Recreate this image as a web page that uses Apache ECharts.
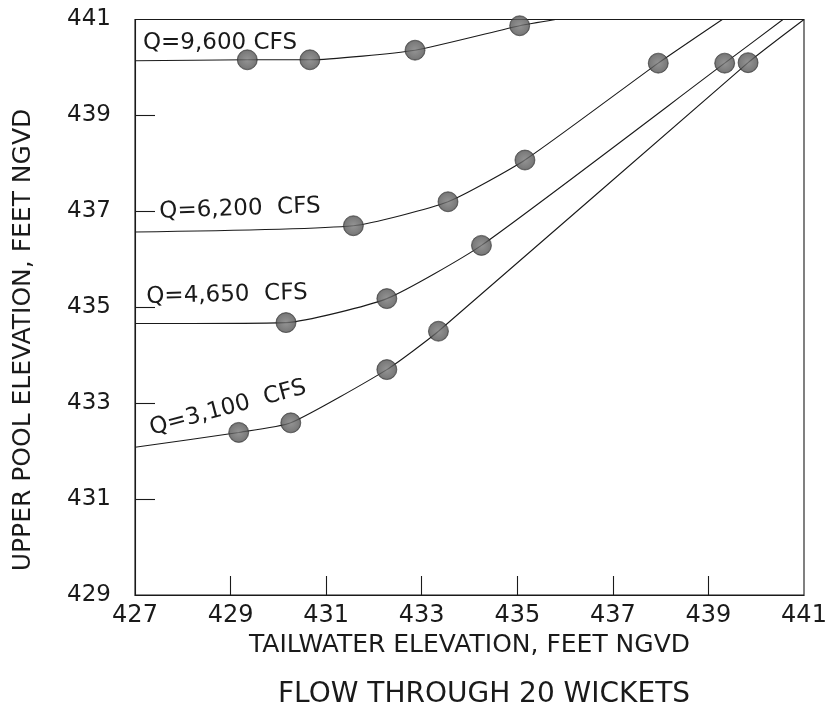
<!DOCTYPE html>
<html>
<head>
<meta charset="utf-8">
<script src="https://cdn.jsdelivr.net/npm/echarts@6/dist/echarts.min.js"></script>
<style>
html,body{margin:0;padding:0;background:#fff;}
#chart{width:830px;height:708px;}
</style>
</head>
<body>
<div id="chart"></div>
<script>
// ---- data ----
const xTickValues = [427, 429, 431, 433, 435, 437, 439, 441];
const yTickValues = [429, 431, 433, 435, 437, 439, 441];

const seriesNames = ['Q=9,600 CFS', 'Q=6,200 CFS', 'Q=4,650 CFS', 'Q=3,100 CFS'];

// measured points (tailwater x, upper pool y)
const q9600X = [429.35, 430.66, 432.86, 435.05];
const q9600Y = [440.16, 440.16, 440.36, 440.87];
const q6200X = [431.57, 433.55, 435.16, 437.95];
const q6200Y = [436.70, 437.20, 438.07, 440.09];
const q4650X = [430.16, 432.27, 434.25, 439.34];
const q4650Y = [434.68, 435.18, 436.29, 440.09];
const q3100X = [429.17, 430.26, 432.27, 433.35, 439.83];
const q3100Y = [432.39, 432.59, 433.70, 434.50, 440.10];

// fitted curve ends as drawn (start at left axis, end where curve meets the frame)
const curveStartX = [427, 427, 427, 427];
const curveStartY = [440.14, 436.57, 434.66, 432.08];
const curveEndX = [435.80, 439.29, 440.56, 441.00];
const curveEndY = [441.00, 441.00, 441.00, 441.00];

// ---- build ----
const ptsX = [q9600X, q6200X, q4650X, q3100X];
const ptsY = [q9600Y, q6200Y, q4650Y, q3100Y];

const FONT = '"DejaVu Sans", sans-serif';
const INK = '#1a1a1a';

const series = [];
ptsX.forEach((xs, i) => {
  const ys = ptsY[i];
  const pts = xs.map((x, k) => [x, ys[k]]);
  series.push({
    type: 'line',
    name: seriesNames[i],
    data: [[curveStartX[i], curveStartY[i]]].concat(pts, [[curveEndX[i], curveEndY[i]]]),
    smooth: 0.18,
    showSymbol: false,
    symbol: 'none',
    clip: true,
    lineStyle: { color: INK, width: 1.1 },
    z: 2,
    silent: true
  });
  series.push({
    type: 'scatter',
    name: seriesNames[i] + ' data',
    data: pts,
    symbol: 'circle',
    symbolSize: 20,
    itemStyle: {
      color: {
        type: 'radial', x: 0.5, y: 0.5, r: 0.5,
        colorStops: [{ offset: 0, color: '#7a7a7a' }, { offset: 0.8, color: '#5a5a5a' }, { offset: 1, color: '#333' }]
      },
      borderColor: '#333',
      borderWidth: 0.8
    },
    z: 3,
    silent: true
  });
});

const chart = echarts.init(document.getElementById('chart'), null, { renderer: 'canvas' });

const gridL = 135, gridR = 26, gridT = 19.5, gridB = 113;

chart.setOption({
  backgroundColor: '#fff',
  animation: false,
  title: {
    text: 'FLOW THROUGH 20 WICKETS',
    left: 479,
    top: 676,
    textAlign: 'center',
    textStyle: { fontFamily: FONT, fontSize: 28, fontWeight: 'normal', color: INK }
  },
  grid: {
    left: gridL, right: gridR, top: gridT, bottom: gridB,
    containLabel: false,
    outerBoundsMode: 'none',
    show: true,
    borderColor: INK,
    borderWidth: 1.1,
    backgroundColor: 'transparent'
  },
  xAxis: {
    type: 'value',
    min: xTickValues[0],
    max: xTickValues[xTickValues.length - 1],
    interval: 2,
    name: 'TAILWATER ELEVATION, FEET NGVD',
    nameLocation: 'middle',
    nameGap: 34,
    nameTextStyle: { fontFamily: FONT, fontSize: 25, color: INK },
    axisLine: { show: true, onZero: false, lineStyle: { color: INK, width: 1.1 } },
    axisTick: {
      show: true, inside: true, length: 19,
      lineStyle: { color: INK, width: 1.1 },
      customValues: xTickValues.slice(1, -1)
    },
    axisLabel: {
      margin: 9,
      fontFamily: FONT, fontSize: 24, color: INK,
      customValues: xTickValues,
      showMinLabel: true, showMaxLabel: true
    },
    splitLine: { show: false }
  },
  yAxis: {
    type: 'value',
    min: yTickValues[0],
    max: yTickValues[yTickValues.length - 1],
    interval: 2,
    axisLine: { show: true, onZero: false, lineStyle: { color: INK, width: 1.1 } },
    axisTick: {
      show: true, inside: true, length: 20,
      lineStyle: { color: INK, width: 1.1 },
      customValues: yTickValues.slice(1, -1)
    },
    axisLabel: {
      margin: 24,
      fontFamily: FONT, fontSize: 23, color: INK,
      customValues: yTickValues,
      showMinLabel: true, showMaxLabel: true
    },
    splitLine: { show: false }
  },
  graphic: [
    {
      type: 'text', x: 23, y: 340, rotation: Math.PI / 2,
      style: { text: 'UPPER POOL ELEVATION, FEET NGVD', x: 0, y: 0, align: 'center', verticalAlign: 'middle', font: '25px ' + FONT, fill: INK },
      silent: true
    },
    {
      type: 'text', x: 220, y: 43.5, rotation: 0,
      style: { text: 'Q=9,600 CFS', x: 0, y: 0, align: 'center', verticalAlign: 'middle', font: '23px ' + FONT, fill: INK },
      z: 5, silent: true
    },
    {
      type: 'text', x: 240, y: 209, rotation: 2 * Math.PI / 180,
      style: { text: 'Q=6,200  CFS', x: 0, y: 0, align: 'center', verticalAlign: 'middle', font: '23px ' + FONT, fill: INK },
      z: 5, silent: true
    },
    {
      type: 'text', x: 227, y: 295, rotation: 1.5 * Math.PI / 180,
      style: { text: 'Q=4,650  CFS', x: 0, y: 0, align: 'center', verticalAlign: 'middle', font: '23px ' + FONT, fill: INK },
      z: 5, silent: true
    },
    {
      type: 'text', x: 228, y: 408, rotation: 15 * Math.PI / 180,
      style: { text: 'Q=3,100  CFS', x: 0, y: 0, align: 'center', verticalAlign: 'middle', font: '23px ' + FONT, fill: INK },
      z: 5, silent: true
    }
  ],
  series: series
});
</script>
</body>
</html>
